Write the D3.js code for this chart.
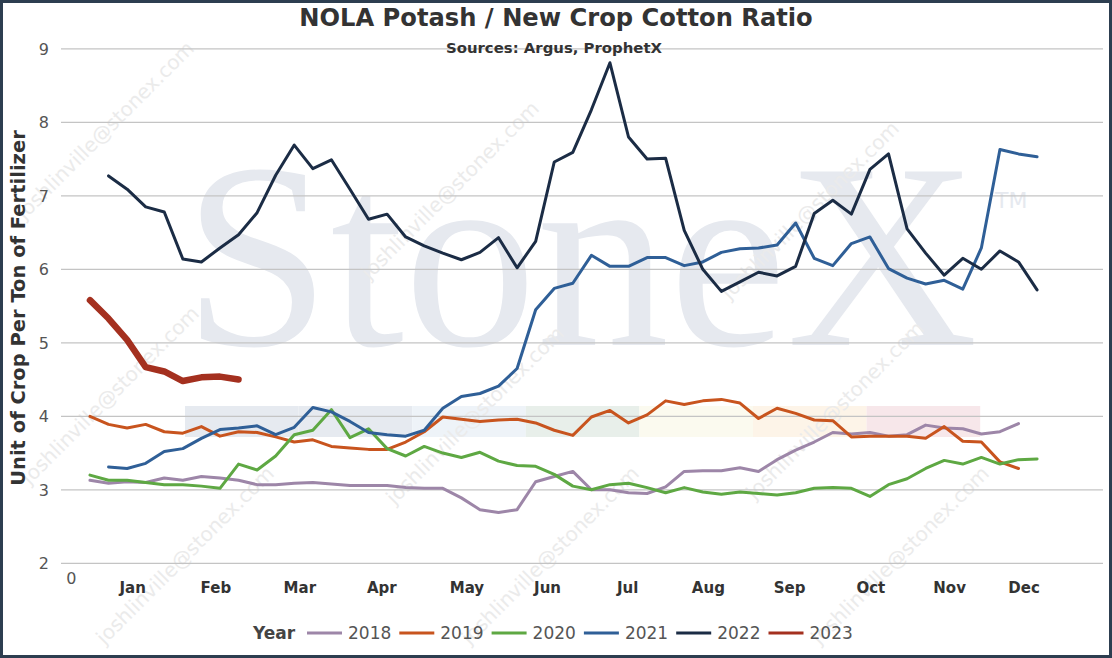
<!DOCTYPE html>
<html>
<head>
<meta charset="utf-8">
<script src="https://cdn.jsdelivr.net/npm/d3@7"></script>
<style>
  html, body { margin: 0; padding: 0; background: #fff; }
  svg { display: block; font-family: "DejaVu Sans", Verdana, sans-serif; }
</style>
</head>
<body>
<script>
// weekly ratio values (week number = index + start week)
const years = ["2018", "2019", "2020", "2021", "2022", "2023"];
const startWeek = [1, 1, 1, 2, 2, 1];
const colors = ["#9d86a8", "#c8541e", "#5ea843", "#2f5f97", "#1b2c45", "#a4301f"];

const y2018 = [3.13, 3.09, 3.11, 3.10, 3.16, 3.13, 3.18, 3.16, 3.13, 3.07, 3.07, 3.09, 3.10, 3.08, 3.06, 3.06, 3.06,
  3.03, 3.02, 3.02, 2.89, 2.73, 2.69, 2.73, 3.11, 3.18, 3.25, 3.00, 3.00, 2.96, 2.95, 3.04, 3.25, 3.26, 3.26, 3.30,
  3.25, 3.41, 3.54, 3.65, 3.78, 3.76, 3.78, 3.73, 3.75, 3.88, 3.84, 3.83, 3.76, 3.79, 3.90];
const y2019 = [4.00, 3.89, 3.84, 3.89, 3.79, 3.77, 3.86, 3.73, 3.79, 3.78, 3.72, 3.65, 3.68, 3.59, 3.57, 3.55, 3.55,
  3.65, 3.79, 3.99, 3.96, 3.93, 3.95, 3.96, 3.91, 3.81, 3.74, 3.99, 4.08, 3.91, 4.02, 4.21, 4.16, 4.21, 4.23, 4.18,
  3.97, 4.11, 4.04, 3.95, 3.94, 3.72, 3.73, 3.73, 3.73, 3.70, 3.86, 3.66, 3.65, 3.38, 3.29];
const y2020 = [3.20, 3.13, 3.13, 3.10, 3.07, 3.07, 3.05, 3.02, 3.35, 3.27, 3.46, 3.75, 3.81, 4.09, 3.71, 3.83, 3.56,
  3.46, 3.59, 3.50, 3.44, 3.51, 3.39, 3.33, 3.32, 3.21, 3.05, 3.00, 3.07, 3.09, 3.03, 2.96, 3.03, 2.97, 2.94, 2.97,
  2.95, 2.93, 2.96, 3.02, 3.03, 3.02, 2.91, 3.07, 3.15, 3.29, 3.40, 3.35, 3.44, 3.35, 3.41, 3.42];
const y2021 = [3.31, 3.29, 3.36, 3.52, 3.56, 3.70, 3.82, 3.84, 3.87, 3.75, 3.85, 4.12, 4.06, 3.93, 3.78, 3.75, 3.73,
  3.81, 4.11, 4.27, 4.31, 4.41, 4.65, 5.45, 5.74, 5.81, 6.19, 6.04, 6.04, 6.16, 6.16, 6.05, 6.10, 6.23, 6.28, 6.29,
  6.33, 6.63, 6.15, 6.05, 6.35, 6.44, 6.01, 5.88, 5.80, 5.85, 5.73, 6.29, 7.63, 7.57, 7.53];
const y2022 = [7.27, 7.09, 6.85, 6.78, 6.14, 6.10, 6.29, 6.47, 6.77, 7.28, 7.69, 7.37, 7.49, 7.09, 6.68, 6.75, 6.44,
  6.32, 6.22, 6.13, 6.23, 6.43, 6.02, 6.38, 7.46, 7.59, 8.17, 8.81, 7.80, 7.50, 7.51, 6.53, 6.00, 5.70, 5.83, 5.96,
  5.91, 6.04, 6.76, 6.94, 6.75, 7.36, 7.57, 6.55, 6.22, 5.92, 6.15, 6.00, 6.25, 6.10, 5.72];
const y2023 = [5.58, 5.33, 5.04, 4.67, 4.61, 4.48, 4.53, 4.54, 4.50];

const monthLabels = ["Jan", "Feb", "Mar", "Apr", "May", "Jun", "Jul", "Aug", "Sep", "Oct", "Nov", "Dec"];
const monthWeeks = [3.3, 7.78, 12.3, 16.72, 21.3, 25.64, 29.95, 34.3, 38.67, 43.05, 47.29, 51.3];
const yTicks = [2, 3, 4, 5, 6, 7, 8, 9];

const width = 1112, height = 658;
const seriesValues = [y2018, y2019, y2020, y2021, y2022, y2023];
const series = years.map((yr, i) => ({
  year: yr,
  color: colors[i],
  points: seriesValues[i].map((v, j) => ({ week: startWeek[i] + j, value: v }))
}));

const x = d3.scaleLinear().domain([0, 54.85]).range([71.4, 1090]);
const y = d3.scaleLinear().domain([2, 9]).range([563.3, 48.8]);

const svg = d3.select("body")
  .append("svg")
  .attr("width", width)
  .attr("height", height);

svg.append("rect")
  .attr("width", width)
  .attr("height", height)
  .attr("fill", "#fff");

// StoneX watermark behind the plot
const wm = svg.append("g");
const bandColors = ["#e6eaf0", "#e6eaf0", "#eef3f8", "#e8efea", "#fbfaef", "#fdf4e8", "#f7e7ea"];
wm.selectAll("rect.band")
  .data(bandColors)
  .join("rect")
  .attr("class", "band")
  .attr("x", (d, i) => 185 + i * 113.6)
  .attr("y", 406)
  .attr("width", 113.6)
  .attr("height", 31)
  .attr("fill", d => d);
wm.append("text")
  .attr("x", 183)
  .attr("y", 345)
  .attr("font-family", "'Liberation Serif', 'DejaVu Serif', serif")
  .attr("font-size", 265)
  .attr("fill", "#e6e9ef")
  .text("StoneX");
wm.append("text")
  .attr("x", 995)
  .attr("y", 208)
  .attr("font-size", 22)
  .attr("fill", "#e6e9ef")
  .text("TM");

const marks = [[110, 135], [455, 195], [815, 215], [115, 400], [480, 420], [840, 415],
  [190, 560], [555, 560], [905, 560]];
wm.selectAll("text.mail")
  .data(marks)
  .join("text")
  .attr("class", "mail")
  .attr("text-anchor", "middle")
  .attr("font-size", 20)
  .attr("fill", "#ebebeb")
  .attr("transform", d => `translate(${d[0]},${d[1]}) rotate(-45)`)
  .text("joshlinville@stonex.com");

// grid + y ticks
svg.append("g")
  .selectAll("line")
  .data(yTicks)
  .join("line")
  .attr("x1", 61)
  .attr("x2", 1103)
  .attr("y1", d => y(d))
  .attr("y2", d => y(d))
  .attr("stroke", "#c4c4c4")
  .attr("stroke-width", 1.3);

svg.append("g")
  .selectAll("text")
  .data(yTicks)
  .join("text")
  .attr("x", 49)
  .attr("y", d => y(d))
  .attr("dy", "0.36em")
  .attr("text-anchor", "end")
  .attr("font-size", 16)
  .attr("fill", "#555")
  .text(d => d);

// x labels
svg.append("text")
  .attr("x", x(0))
  .attr("y", 584)
  .attr("text-anchor", "middle")
  .attr("font-size", 16)
  .attr("fill", "#555")
  .text("0");

svg.append("g")
  .selectAll("text")
  .data(monthLabels)
  .join("text")
  .attr("x", (d, i) => x(monthWeeks[i]))
  .attr("y", 593)
  .attr("text-anchor", "middle")
  .attr("font-size", 15)
  .attr("font-weight", "bold")
  .attr("fill", "#333")
  .text(d => d);

// lines
const line = d3.line()
  .x(d => x(d.week))
  .y(d => y(d.value));

svg.append("g")
  .attr("fill", "none")
  .attr("stroke-linejoin", "round")
  .attr("stroke-linecap", "round")
  .selectAll("path")
  .data(series)
  .join("path")
  .attr("stroke", d => d.color)
  .attr("stroke-width", d => d.year === "2023" ? 6.5 : 3)
  .attr("d", d => line(d.points));

// titles
svg.append("text")
  .attr("x", 556)
  .attr("y", 26)
  .attr("text-anchor", "middle")
  .attr("font-size", 24.2)
  .attr("font-weight", "bold")
  .attr("fill", "#333")
  .text("NOLA Potash / New Crop Cotton Ratio");

svg.append("text")
  .attr("x", 554)
  .attr("y", 53)
  .attr("text-anchor", "middle")
  .attr("font-size", 14.9)
  .attr("font-weight", "bold")
  .attr("fill", "#333")
  .text("Sources: Argus, ProphetX");

svg.append("text")
  .attr("transform", "translate(25,308) rotate(-90)")
  .attr("text-anchor", "middle")
  .attr("font-size", 19.5)
  .attr("font-weight", "bold")
  .attr("fill", "#333")
  .text("Unit of Crop Per Ton of Fertilizer");

// legend
const legend = svg.append("g").attr("transform", "translate(0,633)");
legend.append("text")
  .attr("x", 253)
  .attr("dy", "0.36em")
  .attr("font-size", 17)
  .attr("font-weight", "bold")
  .attr("fill", "#444")
  .text("Year");

const item = legend.selectAll("g.item")
  .data(series)
  .join("g")
  .attr("class", "item")
  .attr("transform", (d, i) => `translate(${307 + i * 92.3},0)`);
item.append("line")
  .attr("x1", 0)
  .attr("x2", 35)
  .attr("stroke", d => d.color)
  .attr("stroke-width", 3);
item.append("text")
  .attr("x", 41)
  .attr("dy", "0.36em")
  .attr("font-size", 17)
  .attr("fill", "#555")
  .text(d => d.year);

// frame
svg.append("rect")
  .attr("x", 1.5)
  .attr("y", 1.5)
  .attr("width", width - 3)
  .attr("height", height - 3)
  .attr("fill", "none")
  .attr("stroke", "#2d3e50")
  .attr("stroke-width", 3);
</script>
</body>
</html>
